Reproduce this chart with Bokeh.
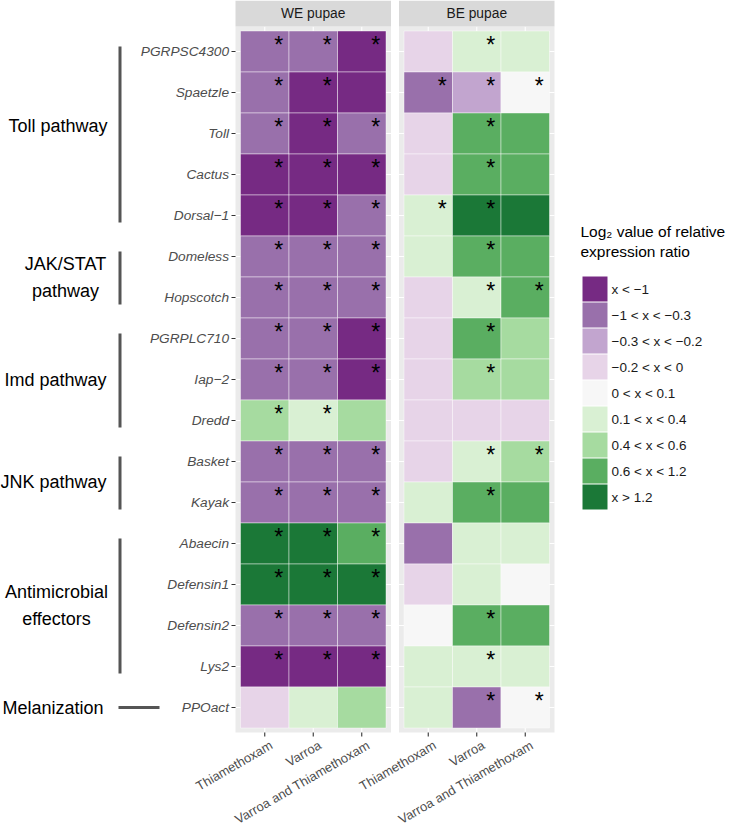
import math
from bokeh.plotting import figure
from bokeh.models import ColumnDataSource, Range1d
from bokeh.core.properties import value
from bokeh.embed import file_html
from bokeh.resources import INLINE

# ---------------- data ----------------
genes = ["PGRPSC4300", "Spaetzle", "Toll", "Cactus", "Dorsal\u22121", "Domeless",
         "Hopscotch", "PGRPLC710", "Iap\u22122", "Dredd", "Basket", "Kayak",
         "Abaecin", "Defensin1", "Defensin2", "Lys2", "PPOact"]
treatments = ["Thiamethoxam", "Varroa", "Varroa and Thiamethoxam"]
stages = ["WE pupae", "BE pupae"]

class_labels = ["x < \u22121", "\u22121 < x < \u22120.3", "\u22120.3 < x < \u22120.2",
                "\u22120.2 < x < 0", "0 < x < 0.1", "0.1 < x < 0.4",
                "0.4 < x < 0.6", "0.6 < x < 1.2", "x > 1.2"]
class_colors = ["#762A83", "#9970AB", "#C2A5CF", "#E7D4E8", "#F7F7F7",
                "#D9F0D3", "#A6DBA0", "#5AAE61", "#1B7837"]

# class index (into class_labels) per gene, in gene order
we_thiamethoxam = [1, 1, 1, 0, 0, 1, 1, 1, 1, 6, 1, 1, 8, 8, 1, 0, 3]
we_varroa       = [1, 0, 0, 0, 0, 1, 1, 1, 1, 5, 1, 1, 8, 8, 1, 0, 5]
we_both         = [0, 0, 1, 0, 1, 1, 1, 0, 0, 6, 1, 1, 7, 8, 1, 0, 6]
be_thiamethoxam = [3, 1, 3, 3, 5, 5, 3, 3, 3, 3, 3, 5, 1, 3, 4, 5, 5]
be_varroa       = [5, 2, 7, 7, 8, 7, 5, 7, 6, 3, 5, 7, 5, 5, 7, 5, 1]
be_both         = [5, 4, 7, 7, 8, 7, 7, 6, 6, 3, 6, 7, 5, 4, 7, 5, 4]

# significance (1 = asterisk)
we_thiamethoxam_sig = [1, 1, 1, 1, 1, 1, 1, 1, 1, 1, 1, 1, 1, 1, 1, 1, 0]
we_varroa_sig       = [1, 1, 1, 1, 1, 1, 1, 1, 1, 1, 1, 1, 1, 1, 1, 1, 0]
we_both_sig         = [1, 0, 1, 1, 1, 1, 1, 1, 1, 0, 1, 1, 1, 1, 1, 1, 0]
be_thiamethoxam_sig = [0, 1, 0, 0, 1, 0, 0, 0, 0, 0, 0, 0, 0, 0, 0, 0, 0]
be_varroa_sig       = [1, 1, 1, 1, 1, 1, 1, 1, 1, 0, 1, 1, 0, 0, 1, 1, 1]
be_both_sig         = [0, 1, 0, 0, 0, 0, 1, 0, 0, 0, 1, 0, 0, 0, 0, 0, 1]

pathways = ["Toll pathway", "JAK/STAT\npathway", "Imd pathway", "JNK pathway",
            "Antimicrobial\neffectors", "Melanization"]
pathway_first = ["PGRPSC4300", "Domeless", "PGRPLC710", "Basket", "Abaecin", "PPOact"]
pathway_last = ["Dorsal\u22121", "Hopscotch", "Dredd", "Kayak", "Lys2", "PPOact"]

legend_title = ["Log\u2082  value of relative", "expression ratio"]

# ---------------- layout ----------------
W, H = 732, 828
n, m = len(genes), len(treatments)
COL_W, ROW_H = 48.5, 41.0
TILE_LEFT_PX, TILE_TOP_PX = 240.0, 30.5
TILE_BOTTOM_PX = TILE_TOP_PX + n * ROW_H

def X(px):
    return (px - TILE_LEFT_PX) / COL_W

def Y(py):
    return (TILE_BOTTOM_PX - py) / ROW_H

def dx(px):
    return px / COL_W

def dy(py):
    return py / ROW_H

PADX, PADY = dx(5), dy(4.5)
STRIP_H = dy(26)
PANEL_GAP = dx(8)
stage_offset = [0.0, m + 2 * PADX + PANEL_GAP]
row_y = [n - i - 0.5 for i in range(n)]
gene_row = {g: row_y[i] for i, g in enumerate(genes)}

FONT = value("Liberation Sans")

p = figure(width=W, height=H, x_range=Range1d(X(0), X(W)), y_range=Range1d(Y(H), Y(0)),
           output_backend="svg", toolbar_location=None, x_axis_location=None,
           y_axis_location=None, min_border=0, title=None)
p.outline_line_color = None
p.background_fill_color = "white"
p.border_fill_color = "white"
p.xgrid.visible = False
p.ygrid.visible = False

stage_values = [[we_thiamethoxam, we_varroa, we_both], [be_thiamethoxam, be_varroa, be_both]]
stage_sig = [[we_thiamethoxam_sig, we_varroa_sig, we_both_sig],
             [be_thiamethoxam_sig, be_varroa_sig, be_both_sig]]

tx, ty, tc = [], [], []
sx, sy = [], []
for s, stage in enumerate(stages):
    off = stage_offset[s]
    L, R = off - PADX, off + m + PADX
    col_x = [off + j + 0.5 for j in range(m)]
    # panel background + grid
    p.quad(left=[L], right=[R], bottom=[-PADY], top=[n + PADY], fill_color="#EBEBEB", line_color=None)
    p.segment(x0=col_x, x1=col_x, y0=-PADY, y1=n + PADY, line_color="white", line_width=1.1)
    p.segment(x0=L, x1=R, y0=row_y, y1=row_y, line_color="white", line_width=1.1)
    # strip
    p.quad(left=[L], right=[R], bottom=[n + PADY], top=[n + PADY + STRIP_H], fill_color="#D9D9D9", line_color=None)
    p.text(x=[(L + R) / 2], y=[n + PADY + STRIP_H / 2], text=[stage], text_font=FONT,
           text_font_size="13.8px", text_color="#1A1A1A", text_align="center", text_baseline="middle")
    # x ticks + labels
    p.segment(x0=col_x, x1=col_x, y0=-PADY, y1=-PADY - dy(4), line_color="#333333", line_width=1.1)
    p.text(x=[c + dx(3) for c in col_x], y=-PADY - dy(5), text=treatments, angle=math.pi / 6,
           text_font=FONT, text_font_size="13px", text_color="#4D4D4D",
           text_align="right", text_baseline="top")
    for j in range(m):
        vals = stage_values[s][j]
        sig = stage_sig[s][j]
        for i in range(n):
            tx.append(col_x[j])
            ty.append(row_y[i])
            tc.append(class_colors[vals[i]])
            if sig[i]:
                sx.append(col_x[j] + dx(14))
                sy.append(row_y[i] + dy(7))

tiles = ColumnDataSource(dict(x=tx, y=ty, color=tc))
p.rect(x="x", y="y", width=1, height=1, source=tiles, fill_color="color",
       line_color="white", line_alpha=0.55, line_width=0.8)
p.text(x=sx, y=sy, text=["*"] * len(sx), text_font=FONT, text_font_size="23px",
       text_color="black", text_align="center", text_baseline="alphabetic")

# y axis (gene names) on first panel
L0 = stage_offset[0] - PADX
p.segment(x0=L0 - dx(4), x1=L0, y0=row_y, y1=row_y, line_color="#333333", line_width=1.1)
p.text(x=L0 - dx(6.5), y=row_y, text=genes, text_font=FONT, text_font_size="13.7px",
       text_font_style="italic", text_color="#4D4D4D", text_align="right", text_baseline="middle")

# pathway annotations
BAR_X = X(119.5)
label_align = ["right", "center", "right", "right", "center", "right"]
label_x_px = [107, 65, 106, 106, 56, 103]
label_nudge_px = [-8, 0, 0, 0, 0, 0]
for k, name in enumerate(pathways):
    y_top = gene_row[pathway_first[k]]
    y_bot = gene_row[pathway_last[k]]
    if pathway_first[k] == pathway_last[k]:
        p.segment(x0=[X(118)], x1=[X(159)], y0=[y_top], y1=[y_top], line_color="#555555", line_width=3)
    else:
        p.segment(x0=[BAR_X], x1=[BAR_X], y0=[y_top + dy(5)], y1=[y_bot - dy(7)],
                  line_color="#555555", line_width=3)
    p.text(x=[X(label_x_px[k])], y=[(y_top + y_bot) / 2 - dy(label_nudge_px[k])], text=[name],
           text_font=FONT, text_font_size="18px", text_color="black",
           text_align=label_align[k], text_baseline="middle", text_line_height=1.35)

# legend
LEG_LEFT, KEY_W, KEY_H, KEY_PITCH, KEY_TOP0 = 582, 25, 25, 26, 276
lk = range(len(class_labels))
p.quad(left=X(LEG_LEFT), right=X(LEG_LEFT + KEY_W),
       top=[Y(KEY_TOP0 + KEY_PITCH * k) for k in lk],
       bottom=[Y(KEY_TOP0 + KEY_PITCH * k + KEY_H) for k in lk],
       fill_color=class_colors, line_color=None)
p.text(x=X(LEG_LEFT + KEY_W + 4), y=[Y(KEY_TOP0 + KEY_PITCH * k + KEY_H / 2) for k in lk],
       text=class_labels, text_font=FONT, text_font_size="13.5px", text_color="#1A1A1A",
       text_align="left", text_baseline="middle")
p.text(x=X(LEG_LEFT - 2), y=[Y(231), Y(251)], text=legend_title, text_font=FONT,
       text_font_size="15.5px", text_color="black", text_align="left", text_baseline="middle")

open("out.html", "w").write(file_html(p, INLINE))
